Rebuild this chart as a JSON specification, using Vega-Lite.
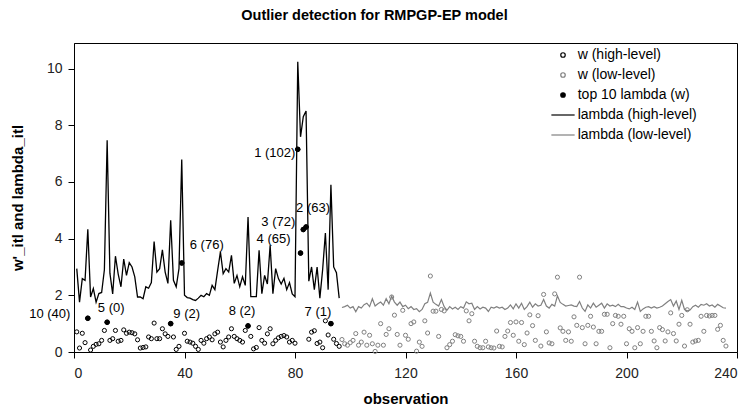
{
  "$schema": "https://vega.github.io/schema/vega-lite/v6.json",
  "width": 663,
  "height": 309,
  "autosize": {"type": "none"},
  "padding": {"left": 74, "top": 43, "right": 12, "bottom": 55},
  "title": {"text": "Outlier detection for RMPGP-EP model", "font": "Liberation Sans", "fontSize": 14.5, "fontWeight": "bold", "color": "#000000", "dx": -31, "offset": 20},
  "config": {
    "view": {"stroke": "#000000", "strokeWidth": 1},
    "axis": {"grid": false, "domainColor": "#000000", "tickColor": "#000000", "tickSize": 6, "labelFont": "Liberation Sans", "labelFontSize": 14, "labelColor": "#222222", "titleFont": "Liberation Sans", "titleFontSize": 15, "titleFontWeight": "bold", "titleColor": "#000000"},
    "legend": {"orient": "none", "legendX": 482, "legendY": 5, "labelFont": "Liberation Sans", "labelFontSize": 14, "labelColor": "#000000", "symbolSize": 20, "symbolStrokeWidth": 1.2, "symbolOpacity": 1, "labelOffset": 7.7, "rowPadding": 6}
  },
  "datasets": {
    "high": [
      {"obs":1,"w":0.71,"lambda":2.94},{"obs":2,"w":0.14,"lambda":1.76},{"obs":3,"w":0.66,"lambda":2.59},{"obs":4,"w":0.33,"lambda":2.53},{"obs":5,"w":1.19,"lambda":4.33},{"obs":6,"w":0.07,"lambda":1.94},{"obs":7,"w":0.2,"lambda":2.24},{"obs":8,"w":0.27,"lambda":1.76},{"obs":9,"w":0.29,"lambda":2.06},{"obs":10,"w":0.41,"lambda":2.1},
      {"obs":11,"w":0.76,"lambda":2.9},{"obs":12,"w":1.05,"lambda":7.47},{"obs":13,"w":0.41,"lambda":2.78},{"obs":14,"w":0.47,"lambda":2.05},{"obs":15,"w":0.76,"lambda":3.38},{"obs":16,"w":0.38,"lambda":2.75},{"obs":17,"w":0.41,"lambda":2.3},{"obs":18,"w":0.78,"lambda":3.28},{"obs":19,"w":0.66,"lambda":2.7},{"obs":20,"w":0.7,"lambda":3.15},
      {"obs":21,"w":0.68,"lambda":3.0},{"obs":22,"w":0.64,"lambda":2.65},{"obs":23,"w":0.43,"lambda":1.94},{"obs":24,"w":0.14,"lambda":1.94},{"obs":25,"w":0.16,"lambda":1.88},{"obs":26,"w":0.18,"lambda":2.3},{"obs":27,"w":0.53,"lambda":2.25},{"obs":28,"w":0.47,"lambda":2.45},{"obs":29,"w":1.02,"lambda":3.9},{"obs":30,"w":0.47,"lambda":2.82},
      {"obs":31,"w":0.47,"lambda":2.94},{"obs":32,"w":0.82,"lambda":3.6},{"obs":33,"w":0.64,"lambda":2.82},{"obs":34,"w":0.55,"lambda":2.42},{"obs":35,"w":1.0,"lambda":4.65},{"obs":36,"w":0.53,"lambda":2.53},{"obs":37,"w":0.09,"lambda":2.3},{"obs":38,"w":0.2,"lambda":2.94},{"obs":39,"w":3.14,"lambda":6.79},{"obs":40,"w":0.66,"lambda":2.0},
      {"obs":41,"w":0.38,"lambda":1.92},{"obs":42,"w":0.35,"lambda":1.9},{"obs":43,"w":0.31,"lambda":1.85},{"obs":44,"w":0.2,"lambda":1.82},{"obs":45,"w":0.09,"lambda":1.9},{"obs":46,"w":0.41,"lambda":2.0},{"obs":47,"w":0.31,"lambda":1.95},{"obs":48,"w":0.47,"lambda":2.06},{"obs":49,"w":0.53,"lambda":2.0},{"obs":50,"w":0.43,"lambda":2.35},
      {"obs":51,"w":0.64,"lambda":2.2},{"obs":52,"w":0.7,"lambda":2.88},{"obs":53,"w":0.35,"lambda":3.53},{"obs":54,"w":0.18,"lambda":2.76},{"obs":55,"w":0.41,"lambda":2.94},{"obs":56,"w":0.53,"lambda":2.82},{"obs":57,"w":0.82,"lambda":3.41},{"obs":58,"w":0.55,"lambda":2.42},{"obs":59,"w":0.47,"lambda":2.7},{"obs":60,"w":0.41,"lambda":2.3},
      {"obs":61,"w":0.35,"lambda":2.65},{"obs":62,"w":0.76,"lambda":2.35},{"obs":63,"w":0.92,"lambda":4.76},{"obs":64,"w":0.55,"lambda":1.95},{"obs":65,"w":0.11,"lambda":1.95},{"obs":66,"w":0.16,"lambda":1.95},{"obs":67,"w":0.86,"lambda":3.59},{"obs":68,"w":0.41,"lambda":2.06},{"obs":69,"w":0.31,"lambda":2.7},{"obs":70,"w":0.64,"lambda":2.4},
      {"obs":71,"w":0.82,"lambda":3.76},{"obs":72,"w":0.29,"lambda":2.06},{"obs":73,"w":0.41,"lambda":2.94},{"obs":74,"w":0.5,"lambda":2.59},{"obs":75,"w":0.55,"lambda":2.4},{"obs":76,"w":0.58,"lambda":2.6},{"obs":77,"w":0.53,"lambda":2.2},{"obs":78,"w":0.35,"lambda":2.45},{"obs":79,"w":0.41,"lambda":2.05},{"obs":80,"w":0.31,"lambda":1.95},
      {"obs":81,"w":7.15,"lambda":10.24},{"obs":82,"w":3.49,"lambda":7.59},{"obs":83,"w":4.32,"lambda":8.3},{"obs":84,"w":4.41,"lambda":8.5},{"obs":85,"w":0.45,"lambda":2.5},{"obs":86,"w":0.7,"lambda":3.0},{"obs":87,"w":0.75,"lambda":2.2},{"obs":88,"w":0.3,"lambda":3.0},{"obs":89,"w":0.35,"lambda":1.9},{"obs":90,"w":0.15,"lambda":2.9},
      {"obs":91,"w":1.1,"lambda":4.2},{"obs":92,"w":0.6,"lambda":2.2},{"obs":93,"w":1.0,"lambda":5.9},{"obs":94,"w":0.45,"lambda":3.0},{"obs":95,"w":0.3,"lambda":2.8},{"obs":96,"w":0.2,"lambda":1.9}
    ],
    "low": [
      {"obs":97,"w":0.44,"lambda":1.57},{"obs":98,"w":0.29,"lambda":1.6},{"obs":99,"w":0.24,"lambda":1.65},{"obs":100,"w":0.33,"lambda":1.55},
      {"obs":101,"w":0.41,"lambda":1.6},{"obs":102,"w":0.65,"lambda":1.42},{"obs":103,"w":0.24,"lambda":1.6},{"obs":104,"w":0.35,"lambda":1.55},{"obs":105,"w":0.7,"lambda":1.67},{"obs":106,"w":0.24,"lambda":1.72},{"obs":107,"w":0.59,"lambda":1.6},{"obs":108,"w":0.29,"lambda":1.88},{"obs":109,"w":0.02,"lambda":1.62},{"obs":110,"w":0.24,"lambda":1.7},
      {"obs":111,"w":1.0,"lambda":1.76},{"obs":112,"w":0.24,"lambda":1.65},{"obs":113,"w":0.62,"lambda":1.88},{"obs":114,"w":0.82,"lambda":1.7},{"obs":115,"w":1.94,"lambda":1.97},{"obs":116,"w":1.3,"lambda":1.76},{"obs":117,"w":0.62,"lambda":1.65},{"obs":118,"w":0.24,"lambda":1.76},{"obs":119,"w":1.47,"lambda":1.6},{"obs":120,"w":0.59,"lambda":1.65},
      {"obs":121,"w":0.45,"lambda":1.53},{"obs":122,"w":1.0,"lambda":1.6},{"obs":123,"w":1.06,"lambda":1.5},{"obs":124,"w":0.03,"lambda":1.53},{"obs":125,"w":0.35,"lambda":1.42},{"obs":126,"w":0.2,"lambda":1.5},{"obs":127,"w":1.1,"lambda":1.7},{"obs":128,"w":0.67,"lambda":1.75},{"obs":129,"w":2.68,"lambda":2.08},{"obs":130,"w":1.44,"lambda":1.76},
      {"obs":131,"w":1.44,"lambda":1.68},{"obs":132,"w":0.55,"lambda":1.62},{"obs":133,"w":1.5,"lambda":1.85},{"obs":134,"w":1.45,"lambda":1.6},{"obs":135,"w":0.15,"lambda":1.47},{"obs":136,"w":0.26,"lambda":1.6},{"obs":137,"w":0.38,"lambda":1.52},{"obs":138,"w":0.61,"lambda":1.58},{"obs":139,"w":0.57,"lambda":1.5},{"obs":140,"w":0.55,"lambda":1.6},
      {"obs":141,"w":0.38,"lambda":1.55},{"obs":142,"w":1.45,"lambda":1.77},{"obs":143,"w":1.1,"lambda":1.7},{"obs":144,"w":1.35,"lambda":1.72},{"obs":145,"w":0.38,"lambda":1.5},{"obs":146,"w":0.2,"lambda":1.6},{"obs":147,"w":0.15,"lambda":1.52},{"obs":148,"w":0.15,"lambda":1.58},{"obs":149,"w":0.38,"lambda":1.55},{"obs":150,"w":0.18,"lambda":1.43},
      {"obs":151,"w":0.15,"lambda":1.58},{"obs":152,"w":0.14,"lambda":1.55},{"obs":153,"w":0.74,"lambda":1.6},{"obs":154,"w":0.2,"lambda":1.55},{"obs":155,"w":0.18,"lambda":1.58},{"obs":156,"w":0.55,"lambda":1.5},{"obs":157,"w":0.74,"lambda":1.55},{"obs":158,"w":1.04,"lambda":1.66},{"obs":159,"w":0.59,"lambda":1.52},{"obs":160,"w":1.06,"lambda":1.7},
      {"obs":161,"w":0.38,"lambda":1.55},{"obs":162,"w":1.04,"lambda":1.72},{"obs":163,"w":0.26,"lambda":1.5},{"obs":164,"w":0.67,"lambda":1.6},{"obs":165,"w":1.31,"lambda":1.76},{"obs":166,"w":0.93,"lambda":1.58},{"obs":167,"w":0.41,"lambda":1.7},{"obs":168,"w":1.28,"lambda":1.62},{"obs":169,"w":0.21,"lambda":1.65},{"obs":170,"w":2.03,"lambda":1.85},
      {"obs":171,"w":0.71,"lambda":1.62},{"obs":172,"w":0.32,"lambda":1.55},{"obs":173,"w":0.29,"lambda":1.68},{"obs":174,"w":2.05,"lambda":1.62},{"obs":175,"w":2.64,"lambda":1.98},{"obs":176,"w":0.85,"lambda":1.75},{"obs":177,"w":0.73,"lambda":1.68},{"obs":178,"w":0.41,"lambda":1.62},{"obs":179,"w":0.71,"lambda":1.64},{"obs":180,"w":0.38,"lambda":1.66},
      {"obs":181,"w":1.24,"lambda":1.62},{"obs":182,"w":0.94,"lambda":1.6},{"obs":183,"w":2.64,"lambda":1.78},{"obs":184,"w":0.86,"lambda":1.55},{"obs":185,"w":0.29,"lambda":1.43},{"obs":186,"w":0.94,"lambda":1.66},{"obs":187,"w":1.26,"lambda":1.55},{"obs":188,"w":0.88,"lambda":1.72},{"obs":189,"w":0.29,"lambda":1.58},{"obs":190,"w":0.73,"lambda":1.65},
      {"obs":191,"w":0.73,"lambda":1.72},{"obs":192,"w":1.33,"lambda":1.55},{"obs":193,"w":1.33,"lambda":1.7},{"obs":194,"w":0.15,"lambda":1.62},{"obs":195,"w":1.0,"lambda":1.65},{"obs":196,"w":1.29,"lambda":1.6},{"obs":197,"w":1.26,"lambda":1.68},{"obs":198,"w":0.98,"lambda":1.6},{"obs":199,"w":1.26,"lambda":1.6},{"obs":200,"w":0.29,"lambda":1.55},
      {"obs":201,"w":0.82,"lambda":1.52},{"obs":202,"w":0.73,"lambda":1.58},{"obs":203,"w":0.15,"lambda":1.5},{"obs":204,"w":0.86,"lambda":1.76},{"obs":205,"w":0.29,"lambda":1.43},{"obs":206,"w":0.73,"lambda":1.52},{"obs":207,"w":1.26,"lambda":1.58},{"obs":208,"w":1.26,"lambda":1.6},{"obs":209,"w":0.73,"lambda":1.55},{"obs":210,"w":0.39,"lambda":1.6},
      {"obs":211,"w":0.15,"lambda":1.55},{"obs":212,"w":0.86,"lambda":1.58},{"obs":213,"w":0.79,"lambda":1.62},{"obs":214,"w":0.39,"lambda":1.7},{"obs":215,"w":0.71,"lambda":1.78},{"obs":216,"w":1.38,"lambda":1.85},{"obs":217,"w":0.65,"lambda":1.62},{"obs":218,"w":0.39,"lambda":1.8},{"obs":219,"w":0.98,"lambda":1.5},{"obs":220,"w":1.29,"lambda":1.82},
      {"obs":221,"w":0.21,"lambda":1.5},{"obs":222,"w":1.49,"lambda":1.45},{"obs":223,"w":0.98,"lambda":1.48},{"obs":224,"w":0.35,"lambda":1.6},{"obs":225,"w":0.39,"lambda":1.65},{"obs":226,"w":0.41,"lambda":1.58},{"obs":227,"w":1.26,"lambda":1.68},{"obs":228,"w":0.73,"lambda":1.65},{"obs":229,"w":1.29,"lambda":1.7},{"obs":230,"w":1.27,"lambda":1.62},
      {"obs":231,"w":1.29,"lambda":1.66},{"obs":232,"w":1.29,"lambda":1.58},{"obs":233,"w":0.8,"lambda":1.68},{"obs":234,"w":0.94,"lambda":1.62},{"obs":235,"w":0.41,"lambda":1.56},{"obs":236,"w":0.21,"lambda":1.55}
    ],
    "top": [
      {"obs":81,"w":7.15,"rank":1,"label":"1 (102)"},
      {"obs":84,"w":4.41,"rank":2,"label":"2 (63)"},
      {"obs":83,"w":4.32,"rank":3,"label":"3 (72)"},
      {"obs":82,"w":3.49,"rank":4,"label":"4 (65)"},
      {"obs":12,"w":1.05,"rank":5,"label":"5 (0)"},
      {"obs":39,"w":3.14,"rank":6,"label":"6 (76)"},
      {"obs":93,"w":1.0,"rank":7,"label":"7 (1)"},
      {"obs":63,"w":0.92,"rank":8,"label":"8 (2)"},
      {"obs":35,"w":1.0,"rank":9,"label":"9 (2)"},
      {"obs":5,"w":1.19,"rank":10,"label":"10 (40)"}
    ]
  },
  "encoding": {
    "x": {"field": "obs", "type": "quantitative", "scale": {"domain": [0, 240], "nice": false}, "axis": {"title": "observation", "values": [0, 40, 80, 120, 160, 200, 240], "labelPadding": 8, "titlePadding": 11}}
  },
  "layer": [
    {
      "data": {"name": "high"},
      "mark": {"type": "line", "strokeWidth": 1.3, "interpolate": "linear"},
      "encoding": {
        "y": {"field": "lambda", "type": "quantitative", "scale": {"domain": [0, 10.9], "nice": false}, "axis": {"title": "w'_itl and lambda_itl", "values": [0, 2, 4, 6, 8, 10], "labelPadding": 6, "titlePadding": 21}},
        "stroke": {"datum": "lambda (high-level)", "type": "nominal", "scale": {"domain": ["w (high-level)", "w (low-level)", "top 10 lambda (w)", "lambda (high-level)", "lambda (low-level)"], "range": ["#000000", "#808080", "#000000", "#000000", "#808080"]}, "legend": {"title": null}}
      }
    },
    {
      "data": {"name": "low"},
      "mark": {"type": "line", "strokeWidth": 1.2},
      "encoding": {
        "y": {"field": "lambda", "type": "quantitative"},
        "stroke": {"datum": "lambda (low-level)", "type": "nominal", "scale": {"domain": ["w (high-level)", "w (low-level)", "top 10 lambda (w)", "lambda (high-level)", "lambda (low-level)"], "range": ["#000000", "#808080", "#000000", "#000000", "#808080"]}, "legend": {"title": null}}
      }
    },
    {
      "data": {"name": "high"},
      "mark": {"type": "point", "filled": true, "size": 17, "strokeWidth": 1, "opacity": 1},
      "encoding": {
        "y": {"field": "w", "type": "quantitative"},
        "stroke": {"datum": "w (high-level)", "type": "nominal", "scale": {"domain": ["w (high-level)", "w (low-level)", "top 10 lambda (w)", "lambda (high-level)", "lambda (low-level)"], "range": ["#000000", "#808080", "#000000", "#000000", "#808080"]}, "legend": {"title": null}},
        "fill": {"datum": "w (high-level)", "type": "nominal", "scale": {"domain": ["w (high-level)", "w (low-level)", "top 10 lambda (w)", "lambda (high-level)", "lambda (low-level)"], "range": ["transparent", "transparent", "#000000", "transparent", "transparent"]}, "legend": {"title": null}},
        "shape": {"datum": "w (high-level)", "type": "nominal", "scale": {"domain": ["w (high-level)", "w (low-level)", "top 10 lambda (w)", "lambda (high-level)", "lambda (low-level)"], "range": ["circle", "circle", "circle", "M-5.2,0H5.2", "M-5.2,0H5.2"]}, "legend": {"title": null}}
      }
    },
    {
      "data": {"name": "low"},
      "mark": {"type": "point", "filled": true, "size": 17, "strokeWidth": 1, "opacity": 1},
      "encoding": {
        "y": {"field": "w", "type": "quantitative"},
        "stroke": {"datum": "w (low-level)", "type": "nominal", "scale": {"domain": ["w (high-level)", "w (low-level)", "top 10 lambda (w)", "lambda (high-level)", "lambda (low-level)"], "range": ["#000000", "#808080", "#000000", "#000000", "#808080"]}, "legend": {"title": null}},
        "fill": {"datum": "w (low-level)", "type": "nominal", "scale": {"domain": ["w (high-level)", "w (low-level)", "top 10 lambda (w)", "lambda (high-level)", "lambda (low-level)"], "range": ["transparent", "transparent", "#000000", "transparent", "transparent"]}, "legend": {"title": null}},
        "shape": {"datum": "w (low-level)", "type": "nominal", "scale": {"domain": ["w (high-level)", "w (low-level)", "top 10 lambda (w)", "lambda (high-level)", "lambda (low-level)"], "range": ["circle", "circle", "circle", "M-5.2,0H5.2", "M-5.2,0H5.2"]}, "legend": {"title": null}}
      }
    },
    {
      "data": {"name": "top"},
      "mark": {"type": "point", "filled": true, "size": 22, "strokeWidth": 1, "opacity": 1},
      "encoding": {
        "y": {"field": "w", "type": "quantitative"},
        "stroke": {"datum": "top 10 lambda (w)", "type": "nominal", "scale": {"domain": ["w (high-level)", "w (low-level)", "top 10 lambda (w)", "lambda (high-level)", "lambda (low-level)"], "range": ["#000000", "#808080", "#000000", "#000000", "#808080"]}, "legend": {"title": null}},
        "fill": {"datum": "top 10 lambda (w)", "type": "nominal", "scale": {"domain": ["w (high-level)", "w (low-level)", "top 10 lambda (w)", "lambda (high-level)", "lambda (low-level)"], "range": ["transparent", "transparent", "#000000", "transparent", "transparent"]}, "legend": {"title": null}},
        "shape": {"datum": "top 10 lambda (w)", "type": "nominal", "scale": {"domain": ["w (high-level)", "w (low-level)", "top 10 lambda (w)", "lambda (high-level)", "lambda (low-level)"], "range": ["circle", "circle", "circle", "M-5.2,0H5.2", "M-5.2,0H5.2"]}, "legend": {"title": null}}
      }
    },
    {"data": {"name": "top"}, "transform": [{"filter": "datum.rank == 1"}], "mark": {"type": "text", "font": "Liberation Sans", "fontSize": 13, "color": "#000000", "dx": -23, "dy": 4}, "encoding": {"y": {"field": "w", "type": "quantitative"}, "text": {"field": "label"}}},
    {"data": {"name": "top"}, "transform": [{"filter": "datum.rank == 2"}], "mark": {"type": "text", "font": "Liberation Sans", "fontSize": 13, "color": "#000000", "dx": 7, "dy": -19}, "encoding": {"y": {"field": "w", "type": "quantitative"}, "text": {"field": "label"}}},
    {"data": {"name": "top"}, "transform": [{"filter": "datum.rank == 3"}], "mark": {"type": "text", "font": "Liberation Sans", "fontSize": 13, "color": "#000000", "dx": -25, "dy": -8}, "encoding": {"y": {"field": "w", "type": "quantitative"}, "text": {"field": "label"}}},
    {"data": {"name": "top"}, "transform": [{"filter": "datum.rank == 4"}], "mark": {"type": "text", "font": "Liberation Sans", "fontSize": 13, "color": "#000000", "dx": -27, "dy": -14}, "encoding": {"y": {"field": "w", "type": "quantitative"}, "text": {"field": "label"}}},
    {"data": {"name": "top"}, "transform": [{"filter": "datum.rank == 5"}], "mark": {"type": "text", "font": "Liberation Sans", "fontSize": 13, "color": "#000000", "dx": 4, "dy": -14}, "encoding": {"y": {"field": "w", "type": "quantitative"}, "text": {"field": "label"}}},
    {"data": {"name": "top"}, "transform": [{"filter": "datum.rank == 6"}], "mark": {"type": "text", "font": "Liberation Sans", "fontSize": 13, "color": "#000000", "dx": 25, "dy": -18}, "encoding": {"y": {"field": "w", "type": "quantitative"}, "text": {"field": "label"}}},
    {"data": {"name": "top"}, "transform": [{"filter": "datum.rank == 7"}], "mark": {"type": "text", "font": "Liberation Sans", "fontSize": 13, "color": "#000000", "dx": -13, "dy": -12}, "encoding": {"y": {"field": "w", "type": "quantitative"}, "text": {"field": "label"}}},
    {"data": {"name": "top"}, "transform": [{"filter": "datum.rank == 8"}], "mark": {"type": "text", "font": "Liberation Sans", "fontSize": 13, "color": "#000000", "dx": -6, "dy": -15}, "encoding": {"y": {"field": "w", "type": "quantitative"}, "text": {"field": "label"}}},
    {"data": {"name": "top"}, "transform": [{"filter": "datum.rank == 9"}], "mark": {"type": "text", "font": "Liberation Sans", "fontSize": 13, "color": "#000000", "dx": 16, "dy": -10}, "encoding": {"y": {"field": "w", "type": "quantitative"}, "text": {"field": "label"}}},
    {"data": {"name": "top"}, "transform": [{"filter": "datum.rank == 10"}], "mark": {"type": "text", "font": "Liberation Sans", "fontSize": 13, "color": "#000000", "dx": -38, "dy": -4}, "encoding": {"y": {"field": "w", "type": "quantitative"}, "text": {"field": "label"}}}
  ]
}
